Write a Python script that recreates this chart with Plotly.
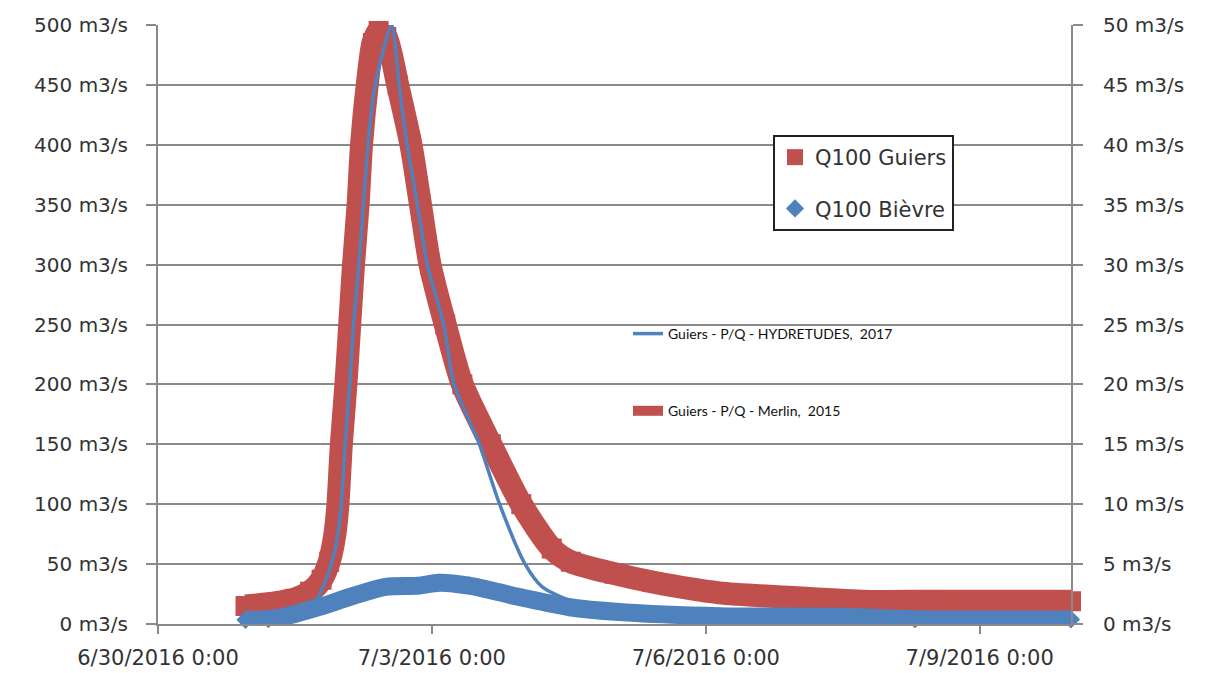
import plotly.graph_objects as go
import pandas as pd

START = "2016-06-30 00:00"

# Q100 Guiers / Merlin 2015 (left axis, m3/s) - hours after START
guiers_hours = [23, 29, 36, 40, 43, 45, 46.5, 47.3, 48.2, 49.4, 50.4, 51.4, 52.6, 53.5, 55,
                56.5, 58, 60, 63, 66.5, 69, 71.5, 75.5, 80, 87.5, 95.5, 103.5, 108.5, 120,
                130, 147.5, 164.5, 185, 204, 240]
guiers_q = [15, 17, 21, 27, 37, 52, 75, 100, 150, 200, 250, 300, 350, 400, 450,
            485, 495, 490, 450, 400, 350, 300, 250, 200, 150, 100, 63, 52, 42,
            35, 26, 22.5, 19, 19, 19]

# Guiers - P/Q - HYDRETUDES 2017 (left axis)
hyd_hours = [23, 36, 41, 43, 45.6, 47.3, 48.2, 49.2, 50.4, 51.4, 52.8, 54, 55.2, 57.1, 61.4,
             63.4, 65.5, 68.2, 70.8, 75.1, 77.8, 81.8, 84.5, 89.8, 96.5, 101, 108, 120,
             144, 192, 240]
hyd_q = [4, 9, 17, 28, 50, 75, 100, 150, 200, 250, 300, 350, 400, 450, 500,
         450, 400, 350, 300, 250, 200, 170, 150, 100, 50, 31, 20, 12,
         8, 6, 5]

# Q100 Bievre (right axis, m3/s)
bievre_hours = [23, 29, 33.6, 42.2, 50.9, 59.8, 68.6, 73.9, 81.8, 95, 108.2, 121.2,
                147.6, 180, 199, 240]
bievre_q = [0.35, 0.4, 0.65, 1.4, 2.3, 3.1, 3.2, 3.45, 3.2, 2.25, 1.4, 1.0,
            0.65, 0.6, 0.4, 0.38]

x_tick_vals = ["2016-06-30", "2016-07-03", "2016-07-06", "2016-07-09"]
x_tick_text = ["6/30/2016 0:00", "7/3/2016 0:00", "7/6/2016 0:00", "7/9/2016 0:00"]
left_ticks = [0, 50, 100, 150, 200, 250, 300, 350, 400, 450, 500]
right_ticks = [0, 5, 10, 15, 20, 25, 30, 35, 40, 45, 50]
left_labels = [f"{v} m3/s" for v in left_ticks]
right_labels = [f"{v} m3/s" for v in right_ticks]

RED = "#C0504D"
BLUE = "#4F81BD"
GRID = "#8a8a8a"


def to_dates(hours):
    return pd.to_datetime(START) + pd.to_timedelta(hours, unit="h")


fig = go.Figure()

fig.add_trace(go.Scatter(
    x=to_dates(guiers_hours), y=guiers_q, mode="lines",
    name="Guiers - P/Q - Merlin,  2015",
    line=dict(color=RED, width=23, shape="spline", smoothing=0.7),
    legend="legend2", legendgroup="m", legendrank=2, hoverinfo="skip"))
fig.add_trace(go.Scatter(
    x=to_dates(guiers_hours), y=guiers_q, mode="markers",
    name="Q100 Guiers", marker=dict(symbol="square", size=20, color=RED),
    cliponaxis=False, legend="legend", legendgroup="g", legendrank=1))
fig.add_trace(go.Scatter(
    x=to_dates(hyd_hours), y=hyd_q, mode="lines",
    name="Guiers - P/Q - HYDRETUDES,  2017",
    line=dict(color=BLUE, width=3.5, shape="spline", smoothing=0.7),
    legend="legend2", legendgroup="h", legendrank=1))
fig.add_trace(go.Scatter(
    x=to_dates(bievre_hours), y=bievre_q, mode="lines", yaxis="y2",
    line=dict(color=BLUE, width=18, shape="spline", smoothing=0.8),
    showlegend=False, legendgroup="b", hoverinfo="skip"))
fig.add_trace(go.Scatter(
    x=to_dates(bievre_hours), y=bievre_q, mode="markers", yaxis="y2",
    name="Q100 Bièvre", marker=dict(symbol="diamond", size=14, color=BLUE),
    cliponaxis=False, legend="legend", legendgroup="b", legendrank=2))

fig.update_layout(
    width=1207, height=673,
    margin=dict(l=158, r=136, t=25, b=49, autoexpand=False),
    paper_bgcolor="white", plot_bgcolor="white",
    font=dict(family="DejaVu Sans", size=20, color="#333333"),
    xaxis=dict(type="date", range=["2016-06-30", "2016-07-10"],
               tickvals=x_tick_vals, ticktext=x_tick_text,
               ticks="outside", ticklen=8, tickwidth=2, tickcolor=GRID,
               showgrid=False, zeroline=False, showline=True,
               linecolor=GRID, linewidth=2, tickfont=dict(size=21),
               ticklabelstandoff=6, automargin=False),
    yaxis=dict(range=[0, 500], tickvals=left_ticks, ticktext=left_labels,
               ticks="outside", ticklen=10, tickwidth=2, tickcolor=GRID,
               showgrid=True, gridcolor=GRID, gridwidth=2, zeroline=False,
               showline=True, linecolor=GRID, linewidth=2,
               tickfont=dict(size=20), ticklabelstandoff=14, automargin=False),
    yaxis2=dict(range=[0, 50], tickvals=right_ticks, ticktext=right_labels,
                overlaying="y", side="right",
                ticks="outside", ticklen=10, tickwidth=2, tickcolor=GRID,
                showgrid=False, zeroline=False, showline=True,
                linecolor=GRID, linewidth=2,
                tickfont=dict(size=20), ticklabelstandoff=16, automargin=False),
    legend=dict(x=(773 - 158) / 913, y=(624 - 135) / 599, xanchor="left", yanchor="top",
                bgcolor="white", bordercolor="#222222", borderwidth=2,
                font=dict(family="DejaVu Sans", size=21, color="#333333"),
                traceorder="grouped", tracegroupgap=21),
    legend2=dict(x=(628 - 158) / 913, y=(624 - 318) / 599, xanchor="left", yanchor="top",
                 bgcolor="rgba(0,0,0,0)", borderwidth=0,
                 font=dict(family="Lato", size=14, color="#111111"),
                 traceorder="grouped", tracegroupgap=56),
    shapes=[dict(type="rect", xref="paper", yref="paper",
                 x0=(612 - 158) / 913, x1=(930 - 158) / 913,
                 y0=(624 - 425) / 599, y1=(624 - 300) / 599,
                 fillcolor="white", line=dict(width=0), layer="between")],
    showlegend=True,
)

fig.write_html("out.html")
